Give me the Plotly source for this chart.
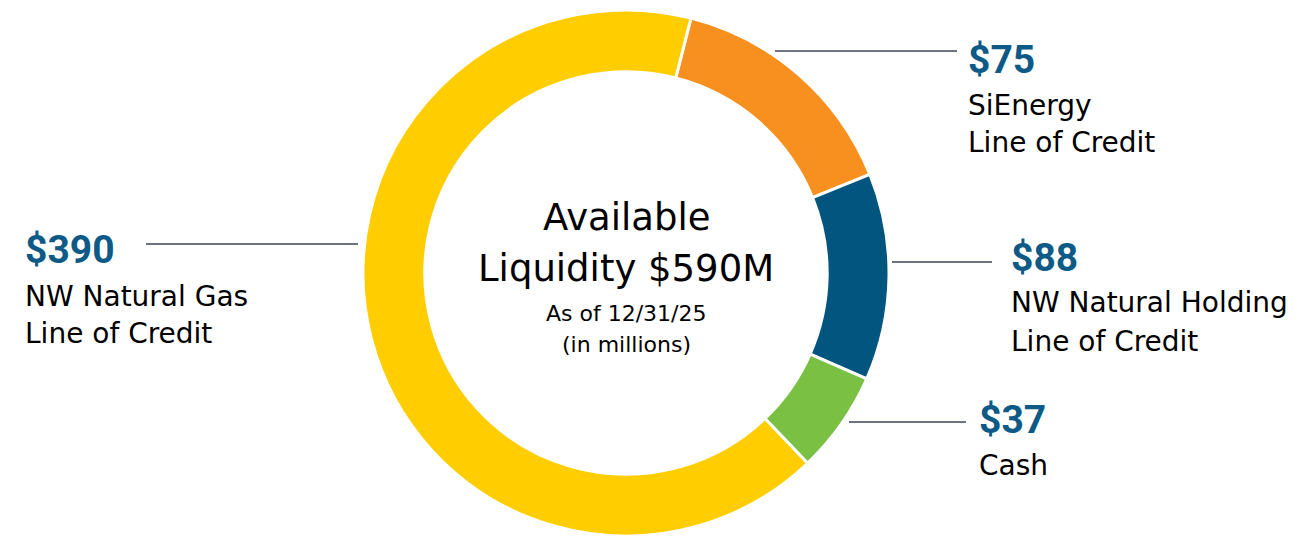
import plotly.graph_objects as go

# Slice sizes as read from the arcs (clockwise from the top, starting with orange)
slice_names = ["SiEnergy Line of Credit", "NW Natural Holding Line of Credit", "Cash", "NW Natural Gas Line of Credit"]
slice_values = [88, 75, 37, 390]
slice_colors = ["#F7901E", "#02557F", "#7AC143", "#FFCD00"]

# Callout texts
amount_labels = ["$75", "$88", "$37", "$390"]
name_lines = [["SiEnergy", "Line of Credit"], ["NW Natural Holding", "Line of Credit"], ["Cash"], ["NW Natural Gas", "Line of Credit"]]
center_lines = ["Available", "Liquidity $590M", "As of 12/31/25", "(in millions)"]

# page has an 8px body margin; the figure is sized to fill the rest of the window
OFF = 8
W, H = 1312 - OFF, 536 - OFF
MT, MB = 2, 0
TEXT_FONT = "DejaVu Sans"
AMT_FONT = "Roboto"
AMT_COLOR = "#0E5A87"
LINE_COLOR = "#6B7480"


def px(x):
    # x given in window pixels
    return (x - OFF) / W


def py(y):
    # y given in window pixels
    return (H - (y - OFF)) / (H - MT - MB)


fig = go.Figure(go.Pie(
    labels=slice_names,
    values=slice_values,
    marker=dict(colors=slice_colors, line=dict(color="white", width=3)),
    hole=0.765,
    sort=False,
    direction="clockwise",
    rotation=14.3,
    textinfo="none",
    hoverinfo="label+value",
    showlegend=False,
    domain=dict(x=[px(626) - 0.25, px(626) + 0.25], y=[0, 1]),
))

annotations = []
shapes = []

# callout layout in window px: (text x, amount y, first name line y, line spacing, leader x0, x1, y)
callouts = [
    (966, 60, 105, 37, 775, 957, 51),
    (1009, 258, 302, 39, 892, 992, 262),
    (977, 420, 465, 37, 849, 966, 422),
    (23, 250, 296, 37, 146, 358, 244),
]

for i, (ax, ay, ny, dy, lx0, lx1, ly) in enumerate(callouts):
    annotations.append(dict(
        x=px(ax), y=py(ay), xref="paper", yref="paper", xanchor="left", yanchor="middle",
        text="<b>" + amount_labels[i] + "</b>", showarrow=False,
        font=dict(family=AMT_FONT, size=39, color=AMT_COLOR),
    ))
    for j, line in enumerate(name_lines[i]):
        annotations.append(dict(
            x=px(ax), y=py(ny + j * dy), xref="paper", yref="paper", xanchor="left", yanchor="middle",
            text=line, showarrow=False,
            font=dict(family=TEXT_FONT, size=28, color="#000000"),
        ))
    shapes.append(dict(type="line", xref="paper", yref="paper",
                       x0=px(lx0), x1=px(lx1), y0=py(ly), y1=py(ly),
                       line=dict(color=LINE_COLOR, width=2)))

center_specs = [(217, 37), (268, 37), (313, 22), (344, 22)]
for (cy, fs), line in zip(center_specs, center_lines):
    annotations.append(dict(
        x=px(626), y=py(cy), xref="paper", yref="paper", xanchor="center", yanchor="middle",
        text=line, showarrow=False,
        font=dict(family=TEXT_FONT, size=fs, color="#000000"),
    ))

fig.update_layout(
    width=W, height=H,
    margin=dict(l=0, r=0, t=MT, b=MB),
    paper_bgcolor="white", plot_bgcolor="white",
    annotations=annotations, shapes=shapes,
)

fig.write_html("out.html")
